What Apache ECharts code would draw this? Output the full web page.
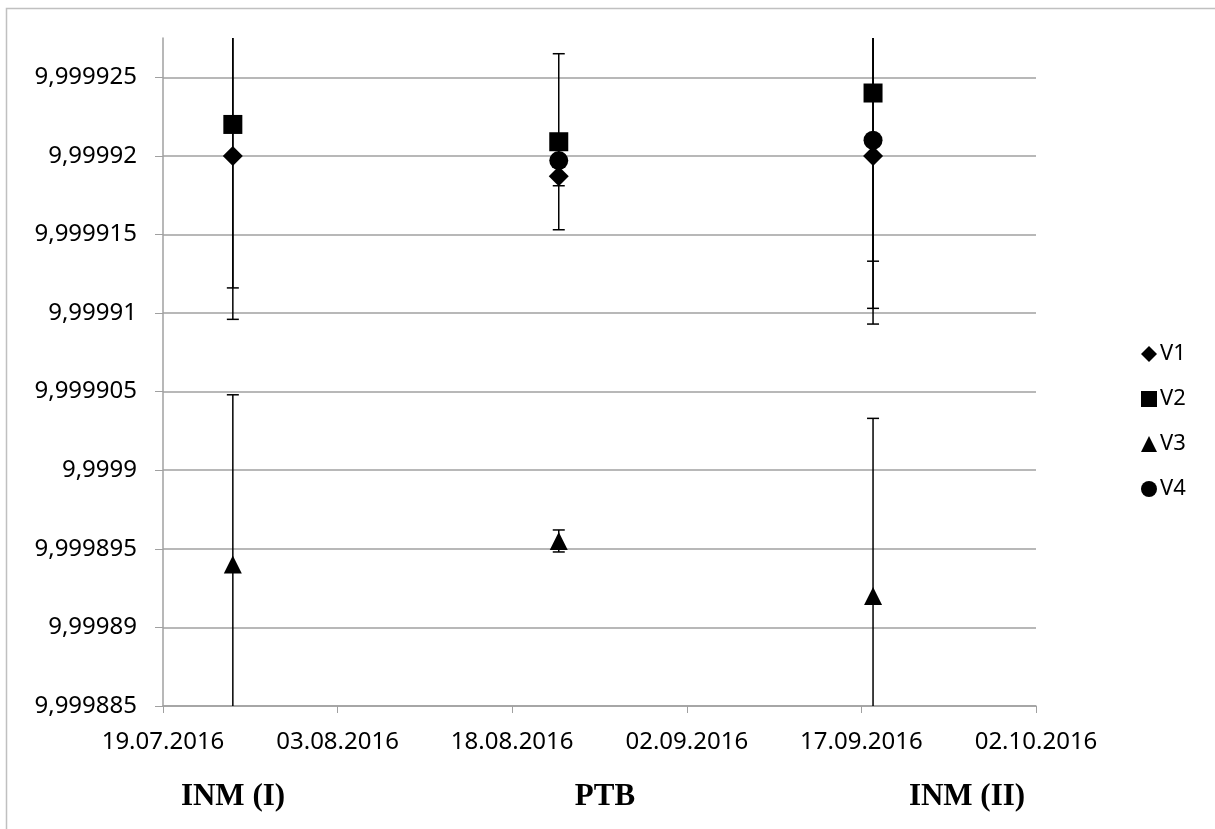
<!DOCTYPE html>
<html>
<head>
<meta charset="utf-8">
<script src="https://cdn.jsdelivr.net/npm/echarts@6/dist/echarts.min.js"></script>
<style>
    html, body { margin: 0; padding: 0; background: #fff; }
    #main { width: 1215px; height: 829px; }
</style>
</head>
<body>
<div id="main"></div>
<script>
// measurement dates and labs
var dates = ['25.07.2016', '22.08.2016', '18.09.2016'];
var stations = ['INM (I)', 'PTB', 'INM (II)'];
var axisStart = '19.07.2016';
var axisEnd = '02.10.2016';

// values per instrument
var v1 = [9.99992, 9.9999187, 9.99992];
var v2 = [9.999922, 9.9999209, 9.999924];
var v3 = [9.999894, 9.9998955, 9.999892];
var v4 = [null, 9.9999197, 9.999921];

// uncertainties (symmetric)
var v1Err = [0.0000104, 0.0000006, 0.0000107];
var v2Err = [0.0000104, 0.0000056, 0.0000107];
var v3Err = [0.0000108, 0.0000007, 0.0000113];
var v4Err = [null, null, 0.0000107];

var yMin = 9.999885, yMax = 9.9999275, yStep = 0.000005;

// excel style day serial
function serial(s) {
    var p = s.split('.');
    return Date.UTC(+p[2], +p[1] - 1, +p[0]) / 86400000 + 25569;
}
function pad(n) { return n < 10 ? '0' + n : '' + n; }
function dateLabel(v) {
    var d = new Date((v - 25569) * 86400000);
    return pad(d.getUTCDate()) + '.' + pad(d.getUTCMonth() + 1) + '.' + d.getUTCFullYear();
}

function points(vals) {
    var out = [];
    for (var i = 0; i < dates.length; i++) {
        if (vals[i] != null) out.push([serial(dates[i]), vals[i]]);
    }
    return out;
}

var errData = [];
[[v1, v1Err], [v2, v2Err], [v3, v3Err], [v4, v4Err]].forEach(function (p) {
    for (var i = 0; i < dates.length; i++) {
        if (p[0][i] != null && p[1][i] != null) errData.push([serial(dates[i]), p[0][i], p[1][i]]);
    }
});

function renderErr(params, api) {
    var x = api.value(0), y = api.value(1), e = api.value(2);
    var hi = y + e, lo = y - e;
    var top = api.coord([x, Math.min(hi, yMax)]);
    var bot = api.coord([x, Math.max(lo, yMin)]);
    var st = { stroke: '#000', lineWidth: 1.5 };
    var kids = [{ type: 'line', shape: { x1: top[0], y1: top[1], x2: bot[0], y2: bot[1] }, style: st }];
    if (hi <= yMax) kids.push({ type: 'line', shape: { x1: top[0] - 6, y1: top[1], x2: top[0] + 6, y2: top[1] }, style: st });
    if (lo >= yMin) kids.push({ type: 'line', shape: { x1: bot[0] - 6, y1: bot[1], x2: bot[0] + 6, y2: bot[1] }, style: st });
    return { type: 'group', children: kids };
}

var chart = echarts.init(document.getElementById('main'));
var labelFont = 'Noto Sans';
var stationFont = 'bold 31px "Liberation Serif"';
var option = {
    backgroundColor: '#fff',
    animation: false,
    grid: { left: 163, right: 179, top: 38, bottom: 123 },
    legend: {
        orient: 'vertical',
        left: 1136,
        top: 338,
        itemWidth: 16,
        itemHeight: 16,
        itemGap: 23,
        data: ['V1', 'V2', 'V3', 'V4'],
        textStyle: { fontSize: 22, color: '#000', fontFamily: labelFont, padding: [0, 0, 0, -2] }
    },
    xAxis: {
        type: 'value',
        min: serial(axisStart),
        max: serial(axisEnd),
        interval: 15,
        axisLine: { lineStyle: { color: '#a0a0a0', width: 1.5 } },
        axisTick: { show: true, length: 7, lineStyle: { color: '#a0a0a0', width: 1 } },
        splitLine: { show: false },
        axisLabel: {
            margin: 24,
            fontSize: 24,
            color: '#000',
            fontFamily: labelFont,
            formatter: dateLabel
        }
    },
    yAxis: {
        type: 'value',
        min: yMin,
        max: yMax,
        interval: yStep,
        axisLine: { show: true, lineStyle: { color: '#a0a0a0', width: 1.5 } },
        axisTick: { show: true, length: 8, lineStyle: { color: '#a0a0a0', width: 1 } },
        splitLine: { show: true, showMaxLine: false, lineStyle: { color: '#a0a0a0', width: 1.5 } },
        axisLabel: {
            margin: 26,
            fontSize: 24,
            color: '#000',
            fontFamily: labelFont,
            showMaxLabel: false,
            formatter: function (v) {
                return String(Number(v.toFixed(7))).replace('.', ',');
            }
        }
    },
    graphic: [
        {
            type: 'rect', silent: true, z: -10,
            shape: { x: 6.5, y: 8.5, width: 1240, height: 840 },
            style: { fill: 'none', stroke: '#c0c0c0', lineWidth: 1.5 }
        },
        { type: 'text', x: 233, y: 797, style: { text: stations[0], font: stationFont, fill: '#000', textAlign: 'center', textVerticalAlign: 'middle' } },
        { type: 'text', x: 605, y: 797, style: { text: stations[1], font: stationFont, fill: '#000', textAlign: 'center', textVerticalAlign: 'middle' } },
        { type: 'text', x: 967, y: 797, style: { text: stations[2], font: stationFont, fill: '#000', textAlign: 'center', textVerticalAlign: 'middle' } }
    ],
    series: [
        {
            name: 'err',
            type: 'custom',
            z: 1,
            silent: true,
            renderItem: renderErr,
            encode: { x: 0, y: 1 },
            data: errData
        },
        { name: 'V1', type: 'scatter', z: 3, symbol: 'diamond', symbolSize: 20, itemStyle: { color: '#000', opacity: 1 }, data: points(v1) },
        { name: 'V2', type: 'scatter', z: 3, symbol: 'rect', symbolSize: 19, itemStyle: { color: '#000', opacity: 1 }, data: points(v2) },
        { name: 'V3', type: 'scatter', z: 3, symbol: 'triangle', symbolSize: [18, 18], itemStyle: { color: '#000', opacity: 1 }, data: points(v3) },
        { name: 'V4', type: 'scatter', z: 3, symbol: 'circle', symbolSize: 19, itemStyle: { color: '#000', opacity: 1 }, data: points(v4) }
    ]
};
chart.setOption(option);
</script>
</body>
</html>
